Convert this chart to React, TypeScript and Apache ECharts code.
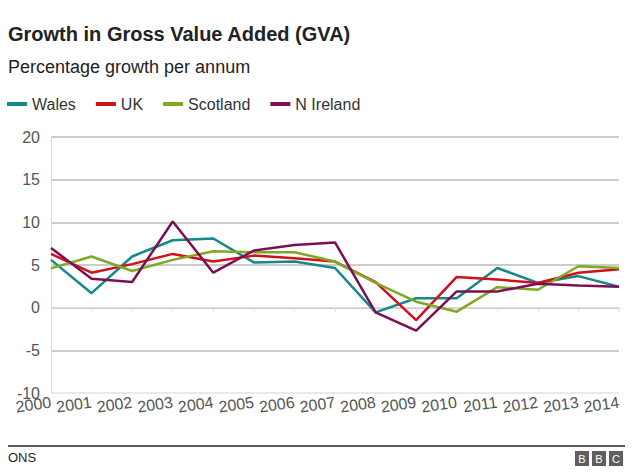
import React, { useEffect, useRef } from "react";
import * as echarts from "echarts";

const years = ["2000","2001","2002","2003","2004","2005","2006","2007","2008","2009","2010","2011","2012","2013","2014"];
const wales = [5.6, 1.7, 6.0, 7.9, 8.1, 5.3, 5.4, 4.65, -0.55, 1.1, 1.1, 4.65, 2.9, 3.7, 2.46];
const uk = [6.3, 4.1, 5.1, 6.3, 5.4, 6.1, 5.8, 5.4, 3.0, -1.45, 3.6, 3.3, 2.9, 4.1, 4.5];
const scotland = [4.6, 6.0, 4.3, 5.6, 6.6, 6.5, 6.5, 5.4, 2.9, 0.7, -0.47, 2.4, 2.1, 4.85, 4.65];
const nIreland = [7.0, 3.4, 3.0, 10.1, 4.1, 6.7, 7.35, 7.65, -0.55, -2.7, 1.9, 1.9, 2.8, 2.6, 2.46];

const seriesNames = ["Wales", "UK", "Scotland", "N Ireland"];
const seriesColors = ["#16888a", "#d0101a", "#7fa923", "#7b0f55"];
const seriesData = [wales, uk, scotland, nIreland];

const FONT = "'Liberation Sans', Arial, Helvetica, sans-serif";

export default function App() {
  const ref = useRef<HTMLDivElement>(null);
  useEffect(() => {
    if (!ref.current) return;
    const chart = echarts.init(ref.current, null, { renderer: "svg" });
    chart.setOption({
      animation: false,
      backgroundColor: "#ffffff",
      textStyle: { fontFamily: FONT },
      grid: { left: 51, right: 21, top: 137, bottom: 83, containLabel: false },
      legend: {
        data: seriesNames,
        left: 2,
        top: 91,
        icon: "rect",
        itemWidth: 20,
        itemHeight: 4,
        itemGap: 20,
        textStyle: { fontSize: 16, color: "#333", fontFamily: FONT },
      },
      xAxis: {
        type: "category",
        data: years,
        boundaryGap: false,
        axisLine: { show: true, lineStyle: { color: "#dddddd", width: 1 } },
        axisTick: { show: true, length: 4, lineStyle: { color: "#dddddd" } },
        axisLabel: { fontSize: 16, color: "#555", rotate: 8, margin: 9, interval: 0, fontFamily: FONT },
        splitLine: { show: false },
      },
      yAxis: {
        type: "value",
        min: -10,
        max: 20,
        interval: 5,
        axisLine: { show: true, lineStyle: { color: "#dddddd", width: 1 } },
        axisTick: { show: false },
        axisLabel: { fontSize: 16, color: "#555", margin: 11, fontFamily: FONT },
        splitLine: {
          show: true,
          lineStyle: { color: ["#e2e2e2", "#bbbbbb", "#bbbbbb", "#bbbbbb", "#bbbbbb", "#bbbbbb", "#bbbbbb"], width: 1.5 },
        },
      },
      series: seriesNames.map((name, i) => ({
        name,
        type: "line",
        data: seriesData[i],
        symbol: "none",
        lineStyle: { width: 2.5, color: seriesColors[i] },
        itemStyle: { color: seriesColors[i] },
      })),
      graphic: [
        {
          type: "text",
          left: 8,
          top: 24,
          style: { text: "Growth in Gross Value Added (GVA)", font: `bold 20px ${FONT}`, fill: "#222" },
        },
        {
          type: "text",
          left: 8,
          top: 58,
          style: { text: "Percentage growth per annum", font: `18px ${FONT}`, fill: "#222" },
        },
        {
          type: "line",
          shape: { x1: 8, y1: 446, x2: 625, y2: 446 },
          style: { stroke: "#222", lineWidth: 1.5 },
        },
        {
          type: "text",
          left: 8,
          top: 451,
          style: { text: "ONS", font: `13px ${FONT}`, fill: "#222" },
        },
        ...["B", "B", "C"].flatMap((ch, i) => [
          {
            type: "rect",
            shape: { x: 575 + i * 17, y: 451, width: 14, height: 15 },
            style: { fill: "#5f5f5f" },
          },
          {
            type: "text",
            x: 582 + i * 17,
            y: 459,
            style: { text: ch, font: `11px ${FONT}`, fill: "#fff", align: "center", verticalAlign: "middle" },
          },
        ]),
      ],
    });
    return () => chart.dispose();
  }, []);
  return <div ref={ref} style={{ position: "fixed", left: 0, top: 0, width: 640, height: 476 }} />;
}
